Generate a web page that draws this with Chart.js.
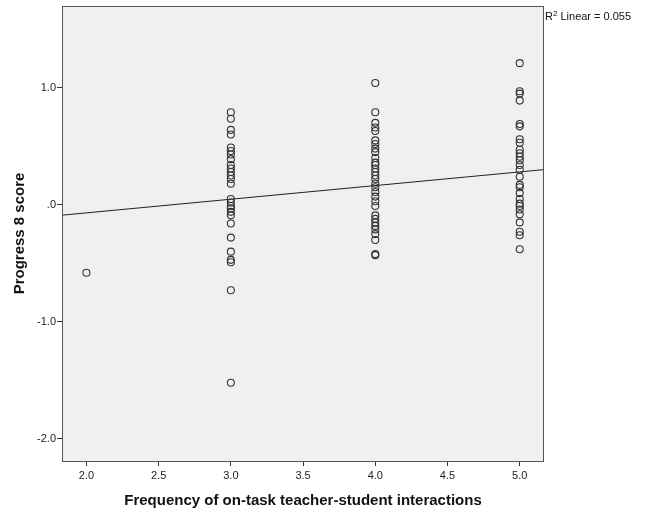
<!DOCTYPE html>
<html>
<head>
<meta charset="utf-8">
<script src="https://cdn.jsdelivr.net/npm/chart.js@4/dist/chart.umd.min.js"></script>
<style>
  body { margin: 0; background: #fff; }
  canvas { display: block; }
</style>
</head>
<body>
<canvas id="chart" width="649" height="515"></canvas>
<script>
// Progress 8 score by frequency of interactions
const scores2 = [-0.58];
const scores3 = [0.79, 0.735, 0.64, 0.60, 0.49, 0.46, 0.43, 0.39, 0.34, 0.31, 0.28, 0.25, 0.22, 0.18,
  0.05, 0.02, -0.01, -0.03, -0.06, -0.09, -0.16, -0.28, -0.40, -0.47, -0.49, -0.73, -1.52];
const scores4 = [1.04, 0.79, 0.70, 0.66, 0.63, 0.55, 0.52, 0.48, 0.45, 0.40, 0.36, 0.34, 0.31, 0.28,
  0.25, 0.22, 0.18, 0.15, 0.11, 0.07, 0.03, -0.01, -0.09, -0.12, -0.15, -0.18, -0.21, -0.25, -0.30,
  -0.42, -0.43];
const scores5 = [1.21, 0.97, 0.95, 0.89, 0.69, 0.67, 0.56, 0.53, 0.47, 0.44, 0.41, 0.38, 0.34, 0.30,
  0.24, 0.17, 0.15, 0.10, 0.05, 0.01, -0.01, -0.04, -0.08, -0.15, -0.23, -0.26, -0.38];

const xTicks = [2.0, 2.5, 3.0, 3.5, 4.0, 4.5, 5.0];
const xTickLabels = ['2.0', '2.5', '3.0', '3.5', '4.0', '4.5', '5.0'];
const yTicks = [-2, -1, 0, 1];
const yTickLabels = ['-2.0', '-1.0', '.0', '1.0'];

// fit line
const fitIntercept = -0.302;
const fitSlope = 0.1166;
const rSquared = '0.055';

const xMin = 1.831, xMax = 5.168;
const yMin = -2.188, yMax = 1.698;

function toPoints(x, arr) {
  return arr.map(v => ({ x: x, y: v }));
}
const scatterPoints = [].concat(
  toPoints(2, scores2), toPoints(3, scores3), toPoints(4, scores4), toPoints(5, scores5)
);
const fitLine = [xMin, xMax].map(x => ({ x: x, y: fitIntercept + fitSlope * x }));

const plotFrame = {
  id: 'plotFrame',
  beforeDatasetsDraw(chart) {
    const { ctx, chartArea: a } = chart;
    ctx.save();
    ctx.fillStyle = '#f0f0f0';
    ctx.fillRect(a.left, a.top, a.right - a.left, a.bottom - a.top);
    ctx.restore();
  },
  afterDraw(chart) {
    const { ctx, chartArea: a } = chart;
    ctx.save();
    ctx.strokeStyle = '#555';
    ctx.lineWidth = 1;
    ctx.strokeRect(a.left + 0.5, a.top + 0.5, a.right - a.left - 1, a.bottom - a.top);
    // R2 label
    ctx.fillStyle = '#111';
    ctx.textBaseline = 'alphabetic';
    ctx.font = '11px "Liberation Sans", Arial, sans-serif';
    let x = a.right + 1;
    const y = a.top + 14;
    ctx.fillText('R', x, y);
    x += ctx.measureText('R').width;
    ctx.font = '8px "Liberation Sans", Arial, sans-serif';
    ctx.fillText('2', x, y - 4);
    x += ctx.measureText('2').width;
    ctx.font = '11px "Liberation Sans", Arial, sans-serif';
    ctx.fillText(' Linear = ' + rSquared, x, y);
    ctx.restore();
  }
};

const ctx = document.getElementById('chart').getContext('2d');
new Chart(ctx, {
  type: 'scatter',
  data: {
    datasets: [
      {
        label: 'Scores',
        data: scatterPoints,
        pointStyle: 'circle',
        pointRadius: 3.5,
        pointBorderWidth: 1.1,
        pointBorderColor: '#333',
        pointBackgroundColor: 'rgba(0,0,0,0)',
        pointHoverRadius: 3.5
      },
      {
        type: 'line',
        label: 'Linear fit',
        data: fitLine,
        borderColor: '#222',
        borderWidth: 1,
        pointRadius: 0,
        fill: false
      }
    ]
  },
  options: {
    responsive: false,
    animation: false,
    devicePixelRatio: 1,
    layout: { padding: { left: 0, top: 6, right: 105, bottom: 0 } },
    plugins: {
      legend: { display: false },
      tooltip: { enabled: false }
    },
    scales: {
      x: {
        type: 'linear',
        min: xMin,
        max: xMax,
        afterBuildTicks: (scale) => { scale.ticks = xTicks.map(v => ({ value: v })); },
        afterFit: (scale) => {
          scale.height = 54;
          scale.paddingLeft = 0;
          scale.paddingRight = 0;
        },
        ticks: {
          autoSkip: false,
          maxRotation: 0,
          padding: 3,
          color: '#222',
          font: { family: '"Liberation Sans", Arial, sans-serif', size: 11 },
          callback: (v) => xTickLabels[xTicks.indexOf(v)]
        },
        grid: { drawOnChartArea: false, drawTicks: true, tickLength: 5, color: '#333' },
        border: { display: false },
        title: {
          display: true,
          text: 'Frequency of on-task teacher-student interactions',
          color: '#111',
          font: { family: '"Liberation Sans", Arial, sans-serif', size: 15, weight: 'bold' },
          padding: { top: 0, bottom: 5 }
        }
      },
      y: {
        type: 'linear',
        min: yMin,
        max: yMax,
        afterBuildTicks: (scale) => { scale.ticks = yTicks.map(v => ({ value: v })); },
        afterFit: (scale) => {
          scale.width = 62;
          scale.paddingTop = 0;
          scale.paddingBottom = 0;
        },
        ticks: {
          autoSkip: false,
          padding: 1,
          color: '#222',
          font: { family: '"Liberation Sans", Arial, sans-serif', size: 11 },
          callback: (v) => yTickLabels[yTicks.indexOf(v)]
        },
        grid: { drawOnChartArea: false, drawTicks: true, tickLength: 5, color: '#333' },
        border: { display: false },
        title: {
          display: true,
          text: 'Progress 8 score',
          color: '#111',
          font: { family: '"Liberation Sans", Arial, sans-serif', size: 15, weight: 'bold' },
          padding: { top: 11, bottom: 0 }
        }
      }
    }
  },
  plugins: [plotFrame]
});
</script>
</body>
</html>
